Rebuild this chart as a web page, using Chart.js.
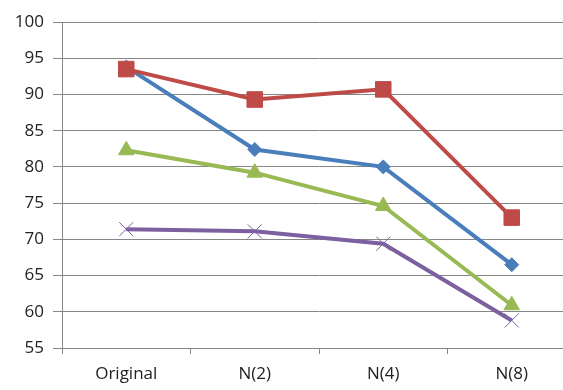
<!DOCTYPE html>
<html lang="en">
  <head>
    <meta charset="UTF-8" />
    <title>Chart</title>
    <script src="https://cdn.jsdelivr.net/npm/chart.js@4"></script>
    <style>
      html, body { margin: 0; padding: 0; background: #fff; overflow: hidden; }
      #wrap { width: 588px; height: 390px; }
    </style>
  </head>
  <body>
    <div id="wrap"><canvas id="chart" width="588" height="390"></canvas></div>
    <script>
      const categories = ["Original", "N(2)", "N(4)", "N(8)"];
      const blueValues = [93.8, 82.4, 80.0, 66.5];
      const redValues = [93.5, 89.3, 90.7, 73.0];
      const greenValues = [82.3, 79.2, 74.6, 60.9];
      const purpleValues = [71.4, 71.1, 69.4, 58.8];
      const yTicks = [55, 60, 65, 70, 75, 80, 85, 90, 95, 100];

      const font = { family: "'Open Sans', sans-serif", size: 17 };

      function series(data, color, style, radius, order) {
        return {
          data: data,
          borderColor: color,
          backgroundColor: color,
          borderWidth: 4,
          tension: 0,
          pointStyle: style,
          pointRadius: radius,
          pointBorderWidth: 1,
          order: order,
        };
      }

      const purple = series(purpleValues, "#9580b8", "crossRot", 10, 1);
      purple.borderColor = "#7d60a0";

      // canvas is wider than the window: the plot runs past the right edge like the original
      new Chart(document.getElementById("chart"), {
        type: "line",
        data: {
          labels: categories,
          datasets: [
            series(blueValues, "#4a7ebb", "rectRot", 7, 4),
            series(redValues, "#be4b48", "rect", 11, 3),
            series(greenValues, "#98b954", "triangle", 9, 2),
            purple,
          ],
        },
        options: {
          responsive: false,
          animation: false,
          layout: { padding: { top: 22, right: 2, left: 0, bottom: 0 } },
          plugins: { legend: { display: false }, tooltip: { enabled: false } },
          scales: {
            x: {
              offset: true,
              grid: {
                offset: true,
                drawOnChartArea: false,
                tickLength: 6,
                color: "#868686",
              },
              border: { color: "#868686" },
              ticks: { font: font, color: "#222", padding: 10 },
              afterFit: (s) => { s.height = 42; },
            },
            y: {
              min: 55,
              max: 100,
              afterBuildTicks: (s) => { s.ticks = yTicks.map((v) => ({ value: v })); },
              grid: { color: "#868686", tickLength: 9 },
              border: { color: "#868686" },
              ticks: { font: font, color: "#222", padding: 9 },
              afterFit: (s) => { s.width = 62; },
            },
          },
        },
      });
    </script>
  </body>
</html>
